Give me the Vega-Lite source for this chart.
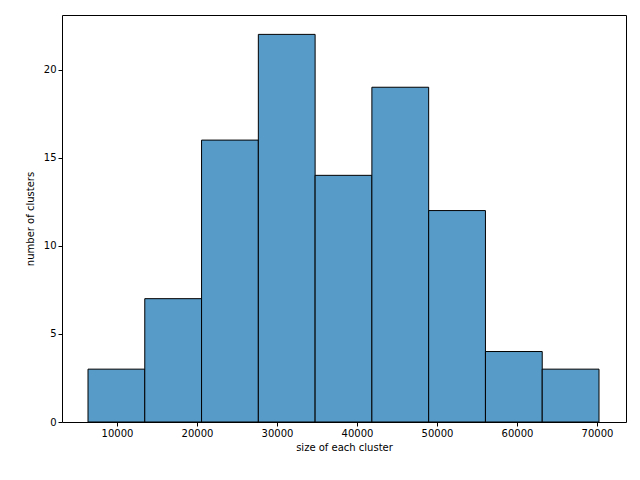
{
  "$schema": "https://vega.github.io/schema/vega-lite/v6.json",
  "width": 564,
  "height": 407,
  "autosize": {"type": "none"},
  "padding": {"left": 62, "top": 15, "right": 14, "bottom": 58},
  "config": {
    "background": "white",
    "view": {"stroke": "black", "strokeWidth": 1},
    "axis": {"labelFont": "DejaVu Sans", "titleFont": "DejaVu Sans", "labelFontSize": 10, "titleFontSize": 10, "titleFontWeight": "normal", "labelColor": "black", "titleColor": "black", "domain": false, "tickColor": "black", "grid": false, "tickSize": 4}
  },
  "data": {
    "values": [
      {"start": 6375, "end": 13472, "count": 3},
      {"start": 13472, "end": 20569, "count": 7},
      {"start": 20569, "end": 27667, "count": 16},
      {"start": 27667, "end": 34764, "count": 22},
      {"start": 34764, "end": 41861, "count": 14},
      {"start": 41861, "end": 48958, "count": 19},
      {"start": 48958, "end": 56056, "count": 12},
      {"start": 56056, "end": 63153, "count": 4},
      {"start": 63153, "end": 70250, "count": 3}
    ]
  },
  "mark": {"type": "rect", "fill": "#579bc8", "stroke": "black", "strokeWidth": 1},
  "encoding": {
    "x": {"field": "start", "type": "quantitative", "title": "size of each cluster", "scale": {"domain": [3125, 73625], "nice": false, "zero": false}, "axis": {"values": [10000, 20000, 30000, 40000, 50000, 60000, 70000], "format": "d", "titlePadding": 4}},
    "x2": {"field": "end"},
    "y": {"field": "count", "type": "quantitative", "title": "number of clusters", "scale": {"domain": [0, 23.1], "nice": false}, "axis": {"values": [0, 5, 10, 15, 20], "titlePadding": 8}}
  }
}
